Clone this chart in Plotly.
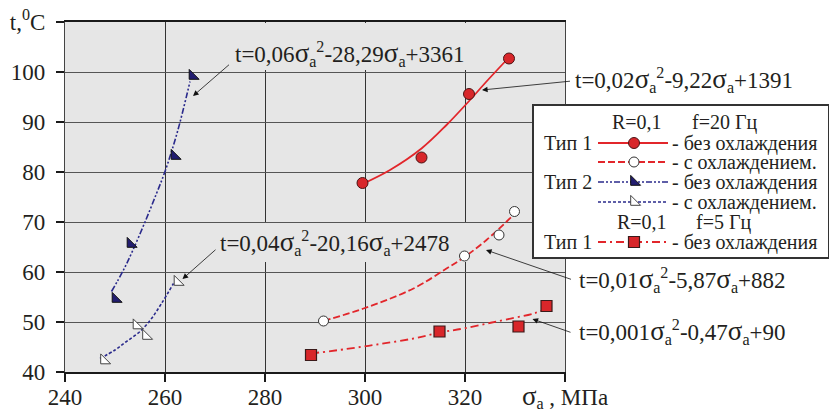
import plotly.graph_objects as go

# ---------------- data ----------------
# Type 1, f = 20 Hz, without cooling (filled red circles, solid trend)
sig_t1_f20 = [299.5, 311.3, 320.8, 328.8]
tmp_t1_f20 = [77.8, 82.9, 95.6, 102.7]
trend_sig_t1_f20 = [299.5, 305.0, 311.3, 316.3, 321.0, 324.3, 328.5]
trend_tmp_t1_f20 = [77.6, 80.4, 84.7, 89.4, 94.4, 98.1, 102.6]

# Type 1, f = 20 Hz, with cooling (open circles, dashed trend)
sig_t1_f20_c = [291.7, 319.9, 326.8, 329.9]
tmp_t1_f20_c = [50.2, 63.2, 67.4, 72.1]
trend_sig_t1_f20_c = [291.7, 299.7, 309.7, 316.3, 319.9, 324.3, 329.7]
trend_tmp_t1_f20_c = [50.2, 52.7, 56.7, 60.7, 63.0, 66.4, 71.4]

# Type 2, without cooling (filled blue triangles, dash-dot-dot trend)
sig_t2 = [250.1, 253.1, 261.9, 265.5]
tmp_t2 = [54.6, 65.6, 83.2, 99.2]
trend_sig_t2 = [249.3, 251.7, 253.5, 256.0, 258.3, 260.0, 262.5, 265.0]
trend_tmp_t2 = [56.1, 60.4, 64.2, 70.0, 75.7, 80.1, 88.1, 98.1]

# Type 2, with cooling (open triangles, dotted trend)
sig_t2_c = [247.8, 254.3, 256.2, 262.5]
tmp_t2_c = [42.3, 49.3, 47.2, 58.0]
trend_sig_t2_c = [247.0, 250.0, 252.3, 255.0, 257.3, 259.3, 261.7]
trend_tmp_t2_c = [42.7, 44.4, 46.1, 48.1, 50.7, 53.7, 57.7]

# Type 1, f = 5 Hz, without cooling (red squares, dash-dot trend)
sig_t1_f5 = [289.2, 314.9, 330.7, 336.3]
tmp_t1_f5 = [43.4, 48.1, 49.1, 53.2]
trend_sig_t1_f5 = [289.2, 296.3, 303.0, 309.7, 315.0, 319.7, 326.3, 333.7, 335.7]
trend_tmp_t1_f5 = [43.7, 44.6, 45.6, 46.7, 47.9, 48.7, 50.1, 51.7, 52.4]

x_ticks = [240, 260, 280, 300, 320, 340]
x_ticktext = ["240", "260", "280", "300", "320",
              '<span style="font-size:27px">σ</span><sub>a</sub> , МПа']
y_ticks = [40, 50, 60, 70, 80, 90, 100, 110]
y_ticktext = ["40", "50", "60", "70", "80", "90", "100", "t,<sup>0</sup>C"]

formulas = [
    "t=0,06σ<sub>a</sub><sup>2</sup>-28,29σ<sub>a</sub>+3361",
    "t=0,04σ<sub>a</sub><sup>2</sup>-20,16σ<sub>a</sub>+2478",
    "t=0,02σ<sub>a</sub><sup>2</sup>-9,22σ<sub>a</sub>+1391",
    "t=0,01σ<sub>a</sub><sup>2</sup>-5,87σ<sub>a</sub>+882",
    "t=0,001σ<sub>a</sub><sup>2</sup>-0,47σ<sub>a</sub>+90",
]
# label anchor (left edge, vertical middle) in figure pixels
formula_px = [(234, 54), (219, 243), (574, 80), (578, 280), (578, 332)]
# arrows: head (sigma, t) and tail offset in pixels
arrows = [
    (265.6, 95.2, 38, -33),
    (263.5, 58.6, 35, -31),
    (323.4, 96.4, 90, -9),
    (324.2, 64.4, 87, 30),
    (333.5, 50.6, 40, 14),
]
# label background patches hiding gridlines (data units)
label_boxes = [(272.6, 323.4, 100.4, 109.8), (270.4, 321.0, 62.0, 69.8)]

# ---------------- styles ----------------
W, H = 829, 412
RED = "#e2262b"
RED_FILL = "#d8262a"
BLUE = "#2a2a8c"
BLUE_FILL = "#221d70"
TXT = "#231f20"
FONT = "Liberation Serif, Times New Roman, Tinos, Times, serif"
SIG = '<span style="font-size:27px">σ</span>'

S_T1 = dict(line=dict(color=RED, width=1.8, dash="solid"),
            marker=dict(symbol="circle", size=11, color=RED_FILL, line=dict(color="#4a1515", width=1)))
S_T1C = dict(line=dict(color=RED, width=1.8, dash="7px,3px"),
             marker=dict(symbol="circle", size=10, color="white", line=dict(color="#333333", width=1)))
S_T2 = dict(line=dict(color=BLUE, width=1.6, dash="6px,2px,2px,2px,2px,2px"),
            marker=dict(symbol="triangle-sw", size=11, color=BLUE_FILL, line=dict(color="#111111", width=1)))
S_T2C = dict(line=dict(color=BLUE, width=1.6, dash="3px,2px"),
             marker=dict(symbol="triangle-sw", size=11, color="white", line=dict(color="#444444", width=1)))
S_F5 = dict(line=dict(color=RED, width=1.8, dash="8px,4px,2px,4px"),
            marker=dict(symbol="square", size=11, color=RED_FILL, line=dict(color="#3b1a1a", width=1.2)))

fig = go.Figure()

series = [
    (trend_sig_t1_f20, trend_tmp_t1_f20, sig_t1_f20, tmp_t1_f20, S_T1),
    (trend_sig_t1_f20_c, trend_tmp_t1_f20_c, sig_t1_f20_c, tmp_t1_f20_c, S_T1C),
    (trend_sig_t2, trend_tmp_t2, sig_t2, tmp_t2, S_T2),
    (trend_sig_t2_c, trend_tmp_t2_c, sig_t2_c, tmp_t2_c, S_T2C),
    (trend_sig_t1_f5, trend_tmp_t1_f5, sig_t1_f5, tmp_t1_f5, S_F5),
]
for tx, ty, px, py, st in series:
    fig.add_trace(go.Scatter(x=tx, y=ty, mode="lines", line=dict(**st["line"], shape="spline", smoothing=1.0),
                             hoverinfo="skip", cliponaxis=False))
for tx, ty, px, py, st in series:
    fig.add_trace(go.Scatter(x=px, y=py, mode="markers", marker=st["marker"], cliponaxis=False))

# ---------------- legend panel (own subplot, pixel coordinates) ----------------
LG = dict(x0=534, x1=828, y0=106, y1=257, sw0=598, sw1=668, mk=634, lab_r=593, txt_l=671)
fig.add_trace(go.Scatter(x=[400, 900, 900, 400, 400], y=[0, 0, 400, 400, 0], mode="lines",
                         fill="toself", fillcolor="white", line=dict(width=0),
                         xaxis="x2", yaxis="y2", hoverinfo="skip"))
legend_rows = [(143, S_T1), (162, S_T1C), (182, S_T2), (202, S_T2C), (242, S_F5)]
for yy, st in legend_rows:
    fig.add_trace(go.Scatter(x=[LG["sw0"], LG["sw1"]], y=[yy, yy], mode="lines", line=st["line"],
                             xaxis="x2", yaxis="y2", hoverinfo="skip"))
    fig.add_trace(go.Scatter(x=[LG["mk"]], y=[yy], mode="markers", marker=st["marker"],
                             xaxis="x2", yaxis="y2", hoverinfo="skip"))

ann = []
lf = dict(family=FONT, size=20, color=TXT)
legend_texts = [
    (637, 122, "R=0,1", "center"), (725, 122, "f=20 Гц", "center"),
    (LG["lab_r"], 143, "Тип 1", "right"), (LG["txt_l"], 143, "- без охлаждения", "left"),
    (LG["txt_l"], 162, "- с охлаждением.", "left"),
    (LG["lab_r"], 182, "Тип 2", "right"), (LG["txt_l"], 182, "- без охлаждения", "left"),
    (LG["txt_l"], 202, "- с охлаждением.", "left"),
    (642, 222, "R=0,1", "center"), (724, 222, "f=5 Гц", "center"),
    (LG["lab_r"], 242, "Тип 1", "right"), (LG["txt_l"], 242, "- без охлаждения", "left"),
]
for x, y, t, xa in legend_texts:
    ann.append(dict(x=x, y=y, xref="x2", yref="y2", text=t, showarrow=False, xanchor=xa,
                    yanchor="middle", font=lf, borderpad=0))

# arrows
for hx, hy, dx, dy in arrows:
    ann.append(dict(x=hx, y=hy, xref="x", yref="y", ax=dx, ay=dy,
                    text=" ", font=dict(size=2), showarrow=True, arrowhead=2, arrowsize=1.4,
                    arrowwidth=0.8, arrowcolor="#111111", standoff=0, startstandoff=0))
# formulas
for (px_, py_), t in zip(formula_px, formulas):
    ann.append(dict(x=px_ / W, y=1 - py_ / H, xref="paper", yref="paper", text=t.replace("σ", SIG),
                    showarrow=False, xanchor="left", yanchor="middle", borderpad=0,
                    font=dict(family=FONT, size=23, color=TXT)))

shapes = []
for x0, x1, y0, y1 in label_boxes:
    shapes.append(dict(type="rect", xref="x", yref="y", x0=x0, x1=x1, y0=y0, y1=y1,
                       fillcolor="#e6e6e6", line=dict(width=0), layer="between"))

tickfont = dict(family=FONT, size=23, color=TXT)
fig.update_layout(
    width=W, height=H, margin=dict(l=0, r=0, t=0, b=0, autoexpand=False),
    paper_bgcolor="white", plot_bgcolor="#e6e6e6", showlegend=False,
    font=dict(family=FONT, color=TXT),
    xaxis=dict(domain=[65 / W, 565 / W], range=[240, 340], tickvals=x_ticks, ticktext=x_ticktext,
               automargin=False, ticklabelstandoff=-5,
               showline=True, linecolor="#1a1a1a", linewidth=2, mirror=True,
               ticks="outside", ticklen=8, tickwidth=2, tickcolor="#1a1a1a",
               showgrid=True, gridcolor="#333333", gridwidth=1, zeroline=False, tickfont=tickfont),
    yaxis=dict(domain=[40 / H, 390 / H], range=[40, 110], tickvals=y_ticks, ticktext=y_ticktext,
               automargin=False,
               showline=True, linecolor="#444444", linewidth=1.2, mirror=True,
               ticks="outside", ticklen=8, tickwidth=2, tickcolor="#1a1a1a", ticklabelstandoff=6,
               showgrid=True, gridcolor="#555555", gridwidth=1.2, zeroline=False, tickfont=tickfont),
    xaxis2=dict(domain=[LG["x0"] / W, LG["x1"] / W], range=[LG["x0"], LG["x1"]], anchor="y2",
                automargin=False,
                showline=True, linecolor="#333333", linewidth=1.5, mirror=True,
                showgrid=False, zeroline=False, showticklabels=False, ticks=""),
    yaxis2=dict(domain=[(H - LG["y1"]) / H, (H - LG["y0"]) / H], range=[LG["y1"], LG["y0"]],
                anchor="x2", automargin=False, showline=True, linecolor="#333333", linewidth=1.5,
                mirror=True, showgrid=False, zeroline=False, showticklabels=False, ticks=""),
    annotations=ann, shapes=shapes,
)

fig.write_html("out.html", config={"displayModeBar": False},
               post_script="document.body.style.margin='0px';document.body.style.overflow='hidden';")
